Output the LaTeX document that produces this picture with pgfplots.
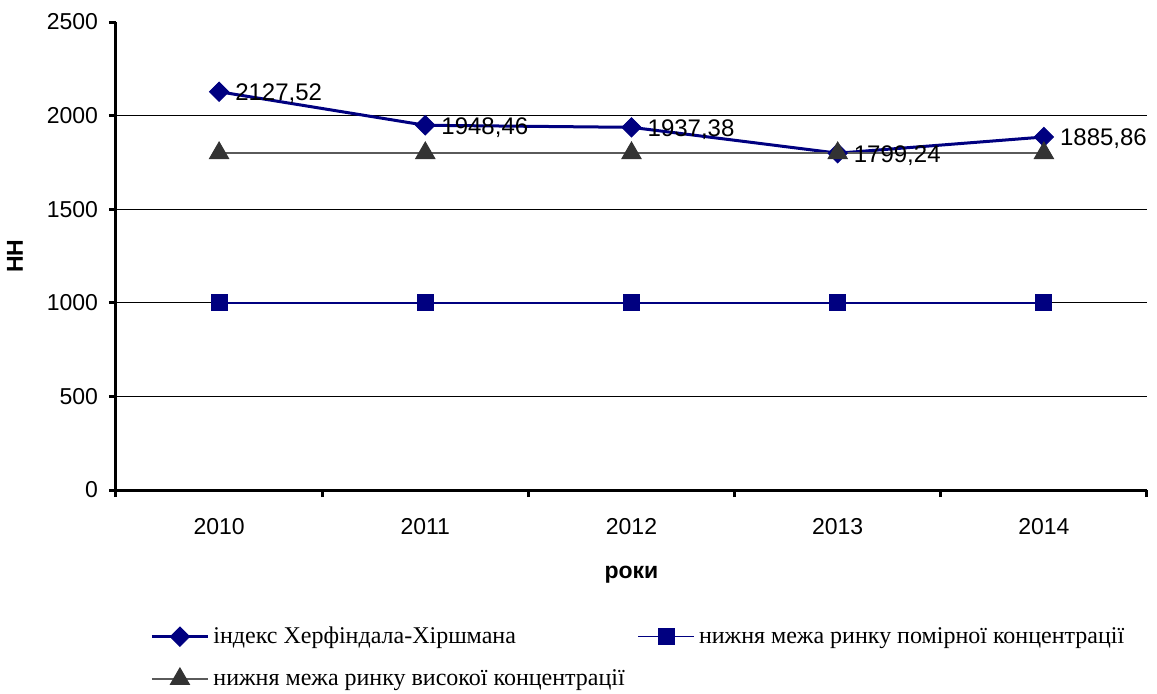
\documentclass[border=0pt]{standalone}
\usepackage{pgfplots}
\pgfplotsset{compat=1.18}
\usepackage{pgfplotstable}
\usepackage{fontspec}
\setmainfont{Liberation Sans}
\newfontfamily\serif{Liberation Serif}
\definecolor{navyb}{RGB}{0,0,128}
\definecolor{tri}{RGB}{51,51,51}
\definecolor{triline}{RGB}{90,90,90}

\pgfplotstableread{
x y label
0 2127.52 2127,52
1 1948.46 1948,46
2 1937.38 1937,38
3 1799.24 1799,24
4 1885.86 1885,86
}\hhi
\pgfplotstableread{
x y
0 1000
1 1000
2 1000
3 1000
4 1000
}\moder
\pgfplotstableread{
x y
0 1800
1 1800
2 1800
3 1800
4 1800
}\high

\begin{document}
\begin{tikzpicture}
\path[use as bounding box] (-58pt,-101.5pt) rectangle (520.5pt,245pt);
\begin{axis}[
  scale only axis,
  width=515.5pt, height=234pt,
  anchor=south west, at={(0pt,0pt)},
  xmin=-0.5, xmax=4.5,
  ymin=0, ymax=2500,
  axis x line*=bottom, axis y line*=left,
  axis line style={line width=1.5pt, black, -},
  tick align=outside,
  tick style={line width=1.5pt, black},
  major tick length=3.5pt,
  minor tick length=3.5pt,
  xtick={0,1,2,3,4},
  xticklabels={2010,2011,2012,2013,2014},
  major x tick style={draw=none},
  minor xtick={-0.5,0.5,1.5,2.5,3.5,4.5},
  ytick={0,500,1000,1500,2000,2500},
  extra y ticks={500,1000,1500,2000},
  extra y tick labels={},
  extra y tick style={grid=major, major tick length=0pt},
  grid style={black, line width=0.5pt},
  /pgf/number format/assume math mode=true,
  /pgf/number format/1000 sep={},
  ticklabel style={font=\fontsize{11.5}{13}\selectfont},
  xticklabel style={yshift=-7pt},
  yticklabel style={xshift=-2pt},
  ylabel={\textbf{НН}},
  ylabel style={at={(axis description cs:-0.098,0.5)}, anchor=center, font=\fontsize{11.5}{13}\selectfont},
  xlabel={\textbf{роки}},
  xlabel style={at={(axis description cs:0.5,-0.18)}, anchor=center, font=\fontsize{11.5}{13}\selectfont},
  clip=false,
  legend columns=2,
  legend cell align=left,
  legend style={draw=none, fill=none, inner sep=0pt, row sep=7.5pt,
    at={(axis description cs:0.033,-0.283)}, anchor=north west,
    font=\serif\fontsize{12}{14}\selectfont},
  legend image code/.code={\draw[mark repeat=2,mark phase=2,#1] plot coordinates {(0pt,0pt) (14pt,0pt) (28pt,0pt)};},
]
\addplot[color=navyb, line width=1.5pt, mark=square*, mark size=3.4pt,
  mark options={fill=navyb, draw=navyb, line width=0.5pt, rotate=45},
  nodes near coords, point meta=explicit symbolic,
  every node near coord/.append style={anchor=west, xshift=4.5pt, yshift=-1pt, font=\fontsize{12}{14}\selectfont, text=black}]
  table[x=x,y=y,meta=label]{\hhi};
\addlegendentry{\makebox[210pt][l]{індекс Херфіндала-Хіршмана}}
\addplot[color=navyb, line width=0.8pt, mark=square*, mark size=4pt,
  mark options={fill=navyb, draw=navyb, line width=0.5pt}]
  table[x=x,y=y]{\moder};
\addlegendentry{нижня межа ринку помірної концентрації}
\addplot[color=triline, line width=0.8pt, mark=triangle*, mark size=5.5pt,
  mark options={fill=tri, draw=tri, line width=0.5pt}]
  table[x=x,y=y]{\high};
\addlegendentry{\makebox[210pt][l]{нижня межа ринку високої концентрації}}
\end{axis}
\end{tikzpicture}
\end{document}
